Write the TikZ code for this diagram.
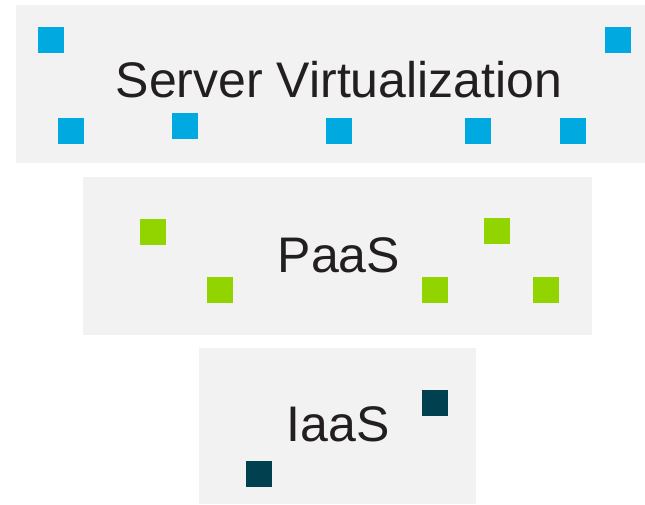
\documentclass[tikz,border=0pt]{standalone}
\usepackage{fontspec}
\setmainfont{Liberation Sans}
\definecolor{boxgray}{HTML}{F2F2F2}
\definecolor{sqblue}{HTML}{00A9E0}
\definecolor{sqgreen}{HTML}{92D400}
\definecolor{sqteal}{HTML}{00404F}
\definecolor{txt}{HTML}{231F20}
\begin{document}
\begin{tikzpicture}[x=1pt,y=-1pt,
  layerbox/.style={fill=boxgray},
  sq/.style={rectangle,minimum size=25.5pt,inner sep=0pt,draw=none},
  bsq/.style={sq,fill=sqblue},
  gsq/.style={sq,fill=sqgreen},
  tsq/.style={sq,fill=sqteal},
  label/.style={anchor=base,inner sep=0pt,text=txt,font=\fontsize{50}{56}\selectfont}]
\useasboundingbox (0,0) rectangle (645,504);
\fill[white] (0,0) rectangle (645,504);
% layers
\fill[layerbox] (16,5) rectangle (645,163);
\fill[layerbox] (83,177) rectangle (592,335);
\fill[layerbox] (199,348) rectangle (476,504);
% labels
\node[label] (sv) at (339,97) {Server Virtualization};
\node[label] (paas) at (339,272) {PaaS};
\node[label] (iaas) at (338,441) {IaaS};
% blue squares
\node[bsq] (b1) at (51,40) {};
\node[bsq] (b2) at (618,40) {};
\node[bsq] (b3) at (71,131) {};
\node[bsq] (b4) at (185,126) {};
\node[bsq] (b5) at (339,131) {};
\node[bsq] (b6) at (478,131) {};
\node[bsq] (b7) at (573,131) {};
% green squares
\node[gsq] (g1) at (153,232) {};
\node[gsq] (g2) at (220,290) {};
\node[gsq] (g3) at (435,290) {};
\node[gsq] (g4) at (497,231) {};
\node[gsq] (g5) at (546,290) {};
% teal squares
\node[tsq] (t1) at (435,403) {};
\node[tsq] (t2) at (259,474) {};
\end{tikzpicture}
\end{document}
